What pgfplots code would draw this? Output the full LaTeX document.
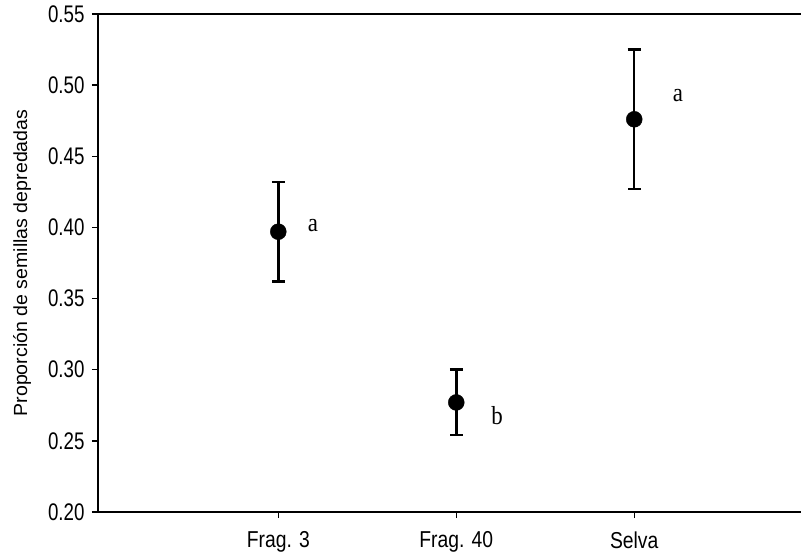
\documentclass[border=0pt]{standalone}
\usepackage{pgfplots}
\pgfplotsset{compat=1.18}
\usepackage{pgfplotstable}
\usepackage{fontspec}
\setmainfont{Liberation Sans}
\newfontfamily\xtickfont[FakeStretch=0.84]{Liberation Sans}
\newfontfamily\ytickfont[FakeStretch=0.78]{Liberation Sans}
\newfontfamily\ylabfont[FakeStretch=1.03]{Liberation Sans}
\newfontfamily\letfont[FakeStretch=0.88]{Liberation Serif}

\pgfplotstableread{
x y ep em
0 0.397 0.035 0.035
1 0.277 0.023 0.023
2 0.476 0.049 0.049
}\datatable

\begin{document}
\begin{tikzpicture}
\useasboundingbox (-98bp,-44bp) rectangle (704bp,512bp);
\begin{axis}[
  at={(0,0)}, anchor=south west,
  scale only axis, width=703bp, height=498bp,
  xmin=-1.013, xmax=2.937, ymin=0.2, ymax=0.55,
  axis x line=box, axis y line=left,
  axis line style={-, line width=2bp},
  xtick={0,1,2}, xticklabels={Frag. 3, Frag. 40, Selva},
  ytick={0.20,0.25,0.30,0.35,0.40,0.45,0.50,0.55},
  xtick pos=left, ytick pos=left,
  tick align=outside, major tick length=6bp,
  tick style={line width=1.3bp, black},
  /pgf/number format/assume math mode=true,
  yticklabel style={/pgf/number format/fixed, /pgf/number format/fixed zerofill, /pgf/number format/precision=2,
     font=\ytickfont\fontsize{24bp}{27bp}\selectfont, xshift=-4bp},
  xticklabel style={font=\xtickfont\fontsize{23bp}{26bp}\selectfont, yshift=-10bp},
  ylabel={Proporción de semillas depredadas},
  ylabel style={font=\ylabfont\fontsize{19bp}{22bp}\selectfont, at={(axis description cs:-0.108,0.5)}, anchor=center},
  clip=false,
]
\addplot+[only marks, black, mark=*, mark size=8bp, mark options={fill=black, draw=black},
  error bars/.cd, y dir=both, y explicit,
  error bar style={line width=2.5bp, black},
  error mark options={rotate=90, mark size=6.5bp, line width=2.5bp, black}]
  table[x=x, y=y, y error plus=ep, y error minus=em] {\datatable};
\node[font=\letfont\fontsize{26bp}{29bp}\selectfont] at (axis cs:0.195,0.401) {a};
\node[font=\letfont\fontsize{26bp}{29bp}\selectfont] at (axis cs:1.230,0.268) {b};
\node[font=\letfont\fontsize{26bp}{29bp}\selectfont] at (axis cs:2.245,0.493) {a};
\end{axis}
\end{tikzpicture}
\end{document}
